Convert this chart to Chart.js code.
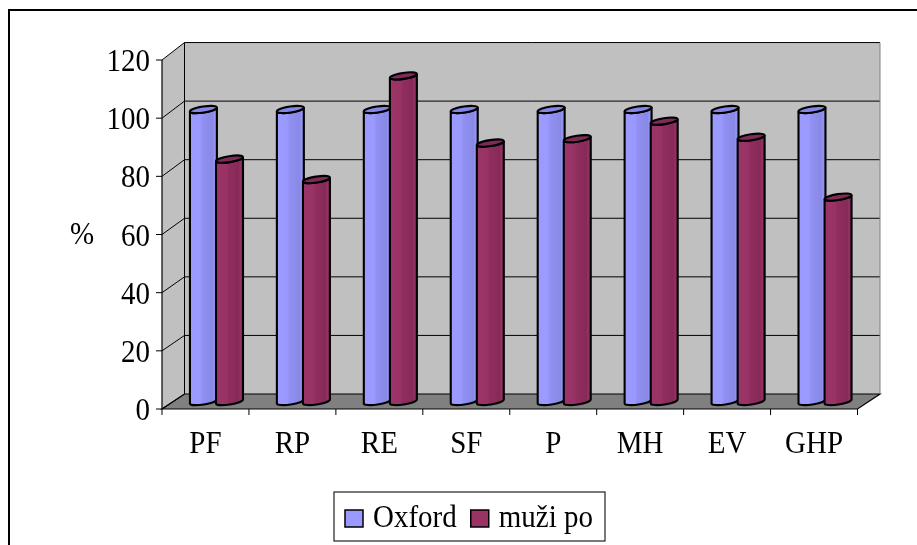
<!DOCTYPE html>
<html><head><meta charset="utf-8">
<script src="https://cdn.jsdelivr.net/npm/chart.js@4/dist/chart.umd.min.js"></script>
<style>html,body{margin:0;padding:0;background:#fff;} canvas{display:block;}</style>
</head><body>
<canvas id="c" width="917" height="545"></canvas>
<script>
const categories = ['PF', 'RP', 'RE', 'SF', 'P', 'MH', 'EV', 'GHP'];
const oxford = [100, 100, 100, 100, 100, 100, 100, 100];
const muziPo = [83, 76, 111.5, 88.5, 90, 96, 90.5, 70];
const yTicks = [0, 20, 40, 60, 80, 100, 120];
const seriesNames = ['Oxford', 'muži po'];
const yAxisTitle = '%';

const FONT = '29px "Liberation Serif", "Times New Roman", serif';
const seriesStyle = [
  { stops: [[0,'#9C9CFF'],[0.38,'#9999FF'],[0.48,'#9090F2'],[0.84,'#8888E6'],[0.9,'#9595F2'],[1,'#7F7FDB']], top: '#8686E6', legend: '#9999FF' },
  { stops: [[0,'#9B3468'],[0.38,'#993366'],[0.48,'#8F2E5E'],[0.84,'#872A58'],[0.9,'#943364'],[1,'#782450']], top: '#7E2B57', legend: '#993366' }
];

// 3D plane transforms relative to the chart area (mid plane)
function frontX(ca, x) { return x - 11; }
function frontY(ca, y) { return 409 + (y - ca.bottom) * 0.996; }
function backX(ca, x) { return x + 11.5; }
function backY(ca, y) { return 394 + (y - ca.bottom) * 1.003; }

function txt(ctx, s, x, y, align) {
  ctx.save();
  ctx.textAlign = align; ctx.textBaseline = 'alphabetic';
  ctx.translate(x, y); ctx.scale(1, 1.06);
  ctx.fillText(s, 0, 0);
  ctx.restore();
}

const scenePlugin = {
  id: 'scene',
  beforeDatasetsDraw(chart) {
    const ctx = chart.ctx, ca = chart.chartArea;
    const ys = chart.scales.y, xs = chart.scales.x;
    ctx.save();
    // outer border
    ctx.strokeStyle = '#000'; ctx.lineWidth = 2;
    ctx.strokeRect(9, 10, 1000, 1000);

    const fl = frontX(ca, ca.left), fr = frontX(ca, ca.right);
    const bl = backX(ca, ca.left), br = backX(ca, ca.right);
    const fTop = frontY(ca, ys.getPixelForValue(yTicks[yTicks.length-1]));
    const fBot = frontY(ca, ys.getPixelForValue(0));
    const bTop = backY(ca, ys.getPixelForValue(yTicks[yTicks.length-1]));
    const bBot = backY(ca, ys.getPixelForValue(0));

    // back wall
    ctx.fillStyle = '#C0C0C0';
    ctx.fillRect(bl, bTop, br - bl, bBot - bTop);
    // side wall
    ctx.beginPath();
    ctx.moveTo(fl, fTop); ctx.lineTo(bl, bTop); ctx.lineTo(bl, bBot); ctx.lineTo(fl, fBot); ctx.closePath();
    ctx.fill();
    // floor
    ctx.fillStyle = '#808080';
    ctx.beginPath();
    ctx.moveTo(fl, fBot); ctx.lineTo(fr, fBot); ctx.lineTo(br, bBot); ctx.lineTo(bl, bBot); ctx.closePath();
    ctx.fill();
    ctx.strokeStyle = '#000'; ctx.lineWidth = 1.2; ctx.stroke();

    // gridlines
    ctx.lineWidth = 1; ctx.strokeStyle = '#000';
    yTicks.forEach(v => {
      const y = ys.getPixelForValue(v);
      const by = backY(ca, y), fy = frontY(ca, y);
      ctx.beginPath();
      if (v !== 0) { ctx.moveTo(bl, by); ctx.lineTo(br, by); }
      ctx.moveTo(fl - 6, fy); ctx.lineTo(fl, fy); ctx.lineTo(bl, by);
      ctx.stroke();
    });
    // back wall vertical edges
    ctx.beginPath(); ctx.moveTo(bl, bTop); ctx.lineTo(bl, bBot); ctx.stroke();
    ctx.strokeStyle = '#808080';
    ctx.beginPath(); ctx.moveTo(br, bTop); ctx.lineTo(br, bBot); ctx.stroke();
    // front axis line
    ctx.strokeStyle = '#000'; ctx.lineWidth = 1.2;
    ctx.beginPath(); ctx.moveTo(fl, fTop); ctx.lineTo(fl, fBot); ctx.stroke();

    // y tick labels
    ctx.fillStyle = '#000'; ctx.font = FONT;
    yTicks.forEach(v => {
      const fy = frontY(ca, ys.getPixelForValue(v));
      txt(ctx, String(v), fl - 12, fy + 11, 'right');
    });
    // y axis title
    txt(ctx, yAxisTitle, 82, (fTop + fBot) / 2 + 9, 'center');

    // category ticks and labels
    ctx.lineWidth = 1;
    const n = categories.length;
    const step = (ca.right - ca.left) / n;
    for (let i = 0; i <= n; i++) {
      const bx = (i < n ? xs.getPixelForValue(i) - step / 2 : xs.getPixelForValue(n - 1) + step / 2);
      const fx = frontX(ca, bx);
      ctx.beginPath(); ctx.moveTo(fx, fBot); ctx.lineTo(fx, fBot + 6); ctx.stroke();
    }
    categories.forEach((c, i) => {
      txt(ctx, c, frontX(ca, xs.getPixelForValue(i)), fBot + 44, 'center');
    });
    ctx.restore();
  },
  afterDatasetsDraw(chart) {
    const ctx = chart.ctx;
    ctx.save();
    const metas = chart.data.datasets.map((d, i) => chart.getDatasetMeta(i));
    for (let j = 0; j < categories.length; j++) {
      metas.forEach((m, si) => {
        const el = m.data[j];
        const st = seriesStyle[si];
        const x = el.x, top = el.y, base = el.base;
        const rx = el.width / 2 + 0.6, ry = 3, th = -0.15;
        const g = ctx.createLinearGradient(x - rx, 0, x + rx, 0);
        st.stops.forEach(s => g.addColorStop(s[0], s[1]));
        ctx.beginPath();
        ctx.ellipse(x, top, rx, ry, th, 0, Math.PI, false);
        ctx.ellipse(x, base, rx, ry, th, Math.PI, 0, true);
        ctx.closePath();
        ctx.fillStyle = g; ctx.fill();
        ctx.strokeStyle = '#000'; ctx.lineWidth = 2.1; ctx.stroke();
        ctx.beginPath();
        ctx.ellipse(x, top, rx, ry, th, 0, Math.PI * 2);
        ctx.fillStyle = st.top; ctx.fill();
        ctx.stroke();
      });
    }
    ctx.restore();
  },
  afterDraw(chart) {
    const ctx = chart.ctx;
    ctx.save();
    // legend box
    ctx.strokeStyle = '#202020'; ctx.lineWidth = 1.2;
    ctx.strokeRect(334, 492, 271, 49);
    ctx.font = FONT;
    let x = 345;
    chart.data.datasets.forEach((d, i) => {
      ctx.fillStyle = seriesStyle[i].legend;
      ctx.fillRect(x, 510, 18, 17);
      ctx.strokeStyle = '#000'; ctx.lineWidth = 1.5;
      ctx.strokeRect(x, 510, 18, 17);
      ctx.fillStyle = '#000';
      txt(ctx, d.label, x + 28, 527, 'left');
      x += 28 + ctx.measureText(d.label).width + 14;
    });
    ctx.restore();
  }
};

new Chart(document.getElementById('c'), {
  type: 'bar',
  data: {
    labels: categories,
    datasets: [
      { label: seriesNames[0], data: oxford, backgroundColor: 'rgba(0,0,0,0)', borderWidth: 0 },
      { label: seriesNames[1], data: muziPo, backgroundColor: 'rgba(0,0,0,0)', borderWidth: 0 }
    ]
  },
  options: {
    responsive: false,
    animation: false,
    devicePixelRatio: 1,
    categoryPercentage: 0.6,
    barPercentage: 1.0,
    layout: { padding: { left: 173, right: 48.5, top: 51.1, bottom: 143.5 } },
    scales: {
      x: { display: false, offset: true },
      y: { display: false, min: 0, max: 120 }
    },
    plugins: { legend: { display: false }, tooltip: { enabled: false } }
  },
  plugins: [scenePlugin]
});
</script>
</body></html>
